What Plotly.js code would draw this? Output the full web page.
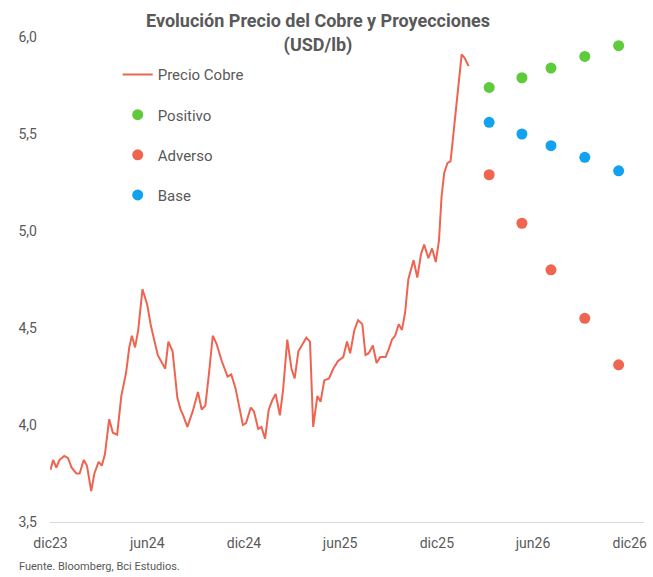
<!DOCTYPE html>
<html>
<head>
<meta charset="utf-8">
<script src="https://cdn.plot.ly/plotly-3.0.1.min.js"></script>
<style>html,body{margin:0;padding:0;background:#fff}#chart{width:653px;height:577px}</style>
</head>
<body>
<div id="chart"></div>
<script>
const copperDates = [
'2023-12-01','2023-12-06','2023-12-12','2023-12-18','2023-12-27','2024-01-03','2024-01-10','2024-01-19','2024-01-25',
'2024-02-02','2024-02-08','2024-02-16','2024-02-22','2024-03-01','2024-03-07','2024-03-13','2024-03-21','2024-03-28',
'2024-04-05','2024-04-13','2024-04-22','2024-04-28','2024-05-03','2024-05-09','2024-05-15','2024-05-23','2024-06-01',
'2024-06-08','2024-06-21','2024-07-05','2024-07-11','2024-07-19','2024-07-28','2024-08-03','2024-08-08','2024-08-16',
'2024-08-26','2024-09-05','2024-09-12','2024-09-19','2024-09-26','2024-10-03','2024-10-10','2024-10-20','2024-10-31',
'2024-11-07','2024-11-15','2024-11-29','2024-12-05','2024-12-14','2024-12-20','2024-12-28','2025-01-03','2025-01-10',
'2025-01-17','2025-01-24','2025-01-30','2025-02-07','2025-02-13','2025-02-21','2025-03-01','2025-03-07','2025-03-14',
'2025-03-21','2025-03-29','2025-04-05','2025-04-11','2025-04-19','2025-04-25','2025-05-02','2025-05-11','2025-05-19',
'2025-05-28','2025-06-07','2025-06-14','2025-06-20','2025-06-28','2025-07-05','2025-07-13','2025-07-19','2025-07-25',
'2025-08-02','2025-08-09','2025-08-16','2025-08-26','2025-09-01','2025-09-07','2025-09-13','2025-09-20','2025-09-26',
'2025-10-02','2025-10-08','2025-10-18','2025-10-25','2025-11-01','2025-11-07','2025-11-15','2025-11-22','2025-11-29',
'2025-12-05','2025-12-10','2025-12-15','2025-12-21','2025-12-27','2026-01-01','2026-01-11','2026-01-17','2026-01-23','2026-01-30'
];
const copperValues = [
3.77,3.82,3.78,3.82,3.84,3.83,3.78,3.75,3.75,
3.82,3.79,3.66,3.75,3.81,3.79,3.85,4.03,3.96,
3.95,4.15,4.27,4.40,4.46,4.40,4.49,4.70,4.62,
4.51,4.36,4.29,4.43,4.38,4.14,4.08,4.05,3.99,
4.07,4.17,4.08,4.10,4.27,4.46,4.42,4.33,4.25,
4.26,4.19,4.00,4.01,4.09,4.07,3.98,3.99,3.93,
4.08,4.13,4.16,4.05,4.18,4.44,4.29,4.24,4.38,
4.41,4.45,4.43,3.99,4.15,4.12,4.23,4.24,4.29,
4.33,4.35,4.43,4.37,4.49,4.54,4.52,4.36,4.37,
4.41,4.32,4.35,4.35,4.39,4.44,4.46,4.52,4.49,
4.58,4.75,4.85,4.76,4.88,4.93,4.86,4.91,4.84,
4.95,5.18,5.30,5.35,5.36,5.49,5.73,5.91,5.89,5.85
];
const projDates = ['2026-03-10','2026-05-11','2026-07-05','2026-09-07','2026-11-10'];
const positivo = [5.74, 5.79, 5.84, 5.90, 5.955];
const adverso  = [5.29, 5.04, 4.80, 4.55, 4.31];
const base     = [5.56, 5.50, 5.44, 5.38, 5.31];
const tickDates = ['2023-12-01','2024-06-01','2024-12-01','2025-06-01','2025-12-01','2026-06-01','2026-12-01'];
const tickLabels = ['dic23','jun24','dic24','jun25','dic25','jun26','dic26'];

const FONT = 'Roboto, "Open Sans", sans-serif';
const GRAY = '#595959';

const traces = [
  {x: copperDates, y: copperValues, type: 'scatter', mode: 'lines', name: 'Precio Cobre',
   line: {color: '#EE6450', width: 2}, legendgroup: 'g1'},
  {x: projDates, y: positivo, type: 'scatter', mode: 'markers', name: 'Positivo',
   marker: {color: '#5DCB3A', size: 11}, legendgroup: 'g2'},
  {x: projDates, y: adverso, type: 'scatter', mode: 'markers', name: 'Adverso',
   marker: {color: '#EF6550', size: 11}, legendgroup: 'g3'},
  {x: projDates, y: base, type: 'scatter', mode: 'markers', name: 'Base',
   marker: {color: '#13A2EE', size: 11}, legendgroup: 'g4'}
];

const layout = {
  width: 653, height: 577,
  paper_bgcolor: '#fff', plot_bgcolor: '#fff',
  separators: ',.',
  margin: {l: 50, r: 9, t: 37, b: 55},
  font: {family: FONT, color: GRAY, size: 14},
  title: {text: '<b>Evolución Precio del Cobre y Proyecciones<br>(USD/lb)</b>',
          font: {family: FONT, size: 18, color: GRAY},
          x: 0.487, xanchor: 'center', y: 0.953, yanchor: 'top', yref: 'container'},
  xaxis: {type: 'date', range: ['2023-11-30', '2026-12-28'],
          tickmode: 'array', tickvals: tickDates, ticktext: tickLabels,
          showgrid: false, zeroline: false, showline: true, linecolor: '#d9d9d9', linewidth: 1,
          ticks: '', ticklabelstandoff: 8, tickfont: {size: 14, color: GRAY}},
  yaxis: {range: [3.5, 6.0], dtick: 0.5, tick0: 3.5, tickformat: '.1f',
          showgrid: false, zeroline: false, showline: false, ticks: '',
          ticklabelstandoff: 12, tickfont: {size: 14, color: GRAY}},
  showlegend: true,
  legend: {x: 0.114, y: 0.956, xanchor: 'left', yanchor: 'top', bgcolor: 'rgba(0,0,0,0)',
           traceorder: 'grouped', tracegroupgap: 17.6, font: {size: 15, color: GRAY}},
  annotations: [
    {text: 'Fuente. Bloomberg, Bci Estudios.', xref: 'paper', yref: 'paper',
     x: -33/594, y: -44/485, xanchor: 'left', yanchor: 'middle', showarrow: false,
     font: {family: FONT, size: 11, color: GRAY}}
  ]
};

Plotly.newPlot('chart', traces, layout, {displayModeBar: false, staticPlot: true});
</script>
</body>
</html>
